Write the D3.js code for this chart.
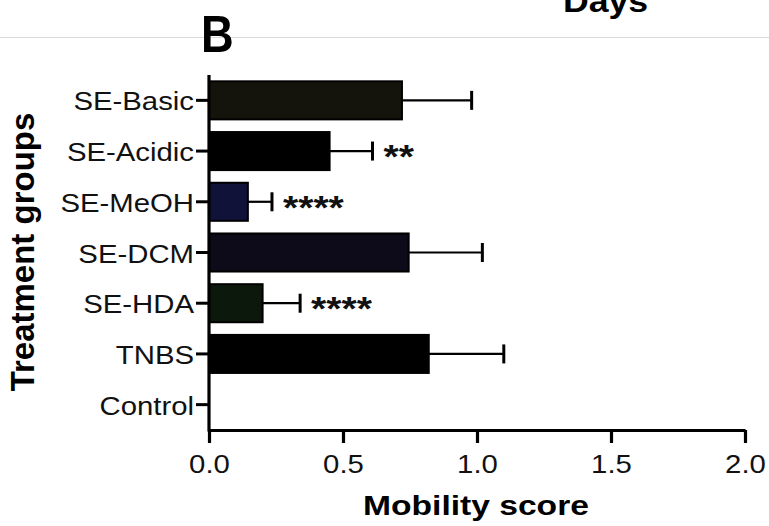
<!DOCTYPE html>
<html>
<head>
<meta charset="utf-8">
<script src="https://cdn.jsdelivr.net/npm/d3@7"></script>
<style>
  html, body { margin: 0; padding: 0; background: #fff; }
  svg { display: block; }
  text { font-family: "Liberation Sans", Arial, Helvetica, sans-serif; }
</style>
</head>
<body>
<svg id="chart" width="769" height="526"></svg>
<script>
// ---- data ----
const categories = ["SE-Basic", "SE-Acidic", "SE-MeOH", "SE-DCM", "SE-HDA", "TNBS", "Control"];
const means      = [0.72, 0.45, 0.145, 0.745, 0.20, 0.82, 0.0];
const errors     = [0.26, 0.16, 0.09, 0.275, 0.14, 0.28, 0.0];
const fills      = ["#14140c", "#000000", "#10123a", "#0d0b19", "#0d180d", "#000000", "#000000"];
const signif     = ["", "**", "****", "", "****", "", ""];
const xTicks     = [0, 0.5, 1.0, 1.5, 2.0];

const svg = d3.select("#chart");
const SX = 1.15; // horizontal stretch of text seen in the reference

// faint separator line at top
svg.append("line").attr("x1", 0).attr("x2", 769).attr("y1", 37.5).attr("y2", 37.5)
  .attr("stroke", "#d9d9d9").attr("stroke-width", 1);

// panel letter and clipped heading
svg.append("text").attr("transform", "translate(201,52) scale(0.87,1)")
  .attr("font-weight", "bold").attr("font-size", 52).attr("fill", "#000").text("B");
svg.append("text").attr("transform", "translate(563,12) scale(1.15,1)")
  .attr("font-weight", "bold").attr("font-size", 31).attr("fill", "#000").text("Days");

const x = d3.scaleLinear().domain([0, 2]).range([209, 745]);
const y = d3.scaleBand().domain(categories).range([75, 430])
  .paddingInner(0.25).paddingOuter(0.125);

// bars
svg.append("g").selectAll("rect").data(categories).join("rect")
  .attr("x", x(0))
  .attr("y", d => y(d))
  .attr("width", (d, i) => x(means[i]) - x(0))
  .attr("height", y.bandwidth())
  .attr("fill", (d, i) => fills[i])
  .attr("stroke", "#000").attr("stroke-width", 2)
  .attr("display", (d, i) => means[i] > 0 ? null : "none");

// error bars
const eg = svg.append("g").attr("stroke", "#000").attr("stroke-width", 2.2);
categories.forEach((c, i) => {
  if (errors[i] <= 0) return;
  const cy = y(c) + y.bandwidth() / 2;
  eg.append("line").attr("x1", x(means[i])).attr("x2", x(means[i] + errors[i]))
    .attr("y1", cy).attr("y2", cy);
  eg.append("line").attr("x1", x(means[i] + errors[i])).attr("x2", x(means[i] + errors[i]))
    .attr("y1", cy - 9.5).attr("y2", cy + 9.5).attr("stroke-width", 3);
});

// significance stars
svg.append("g").selectAll("text").data(categories).join("text")
  .attr("transform", (d, i) => `translate(${x(means[i] + errors[i]) + 11},${y(d) + y.bandwidth() / 2 + 17}) scale(${SX},1)`)
  .attr("font-size", 34).attr("font-weight", "bold").attr("fill", "#111")
  .text((d, i) => signif[i]);

// x axis
const xAxis = svg.append("g").attr("transform", "translate(0,430)")
  .call(d3.axisBottom(x).tickValues(xTicks).tickFormat(d3.format(".1f")).tickSize(13).tickSizeOuter(0));
xAxis.select(".domain").attr("stroke", "#000").attr("stroke-width", 3.2);
xAxis.selectAll(".tick line").attr("stroke", "#000").attr("stroke-width", 3.2);
xAxis.selectAll(".tick text")
  .attr("y", null).attr("dy", null)
  .attr("transform", `translate(0,43) scale(${SX},1)`)
  .attr("font-size", 25.5).attr("fill", "#111")
  .attr("font-family", "Liberation Sans, Arial, sans-serif");

// y axis
const yAxis = svg.append("g").attr("transform", "translate(209,0)")
  .call(d3.axisLeft(y).tickSize(13).tickSizeOuter(0));
yAxis.select(".domain").attr("stroke", "#000").attr("stroke-width", 3.2)
  .attr("d", "M0,75V431.5");
yAxis.selectAll(".tick line").attr("stroke", "#000").attr("stroke-width", 3);
yAxis.selectAll(".tick text")
  .attr("x", null).attr("dy", null)
  .attr("transform", `translate(-15,10) scale(${SX},1)`)
  .attr("font-size", 25.5).attr("fill", "#111")
  .attr("font-family", "Liberation Sans, Arial, sans-serif");

// axis titles
svg.append("text").attr("transform", "translate(476,515) scale(1.2,1)")
  .attr("text-anchor", "middle").attr("font-weight", "bold").attr("font-size", 28)
  .attr("fill", "#000").text("Mobility score");
svg.append("text").attr("transform", "translate(34,252) rotate(-90)")
  .attr("text-anchor", "middle").attr("font-weight", "bold").attr("font-size", 33)
  .attr("fill", "#000").text("Treatment groups");
</script>
</body>
</html>
